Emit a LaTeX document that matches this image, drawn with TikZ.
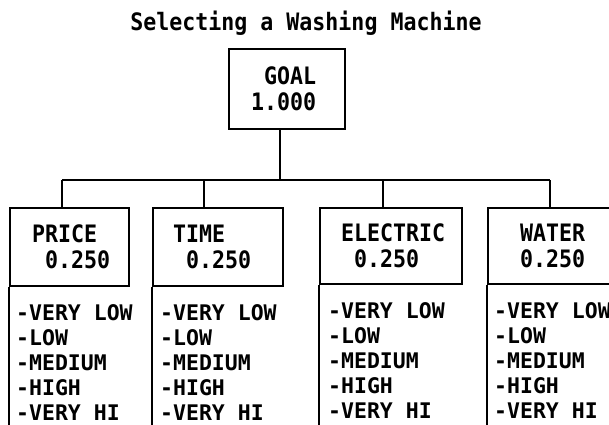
\documentclass[tikz,border=0pt]{standalone}
\usepackage{fontspec}
\usepackage{tikz}
\usetikzlibrary{positioning}
\newfontfamily\printfont[FakeStretch=0.9]{DejaVu Sans Mono}
\newfontfamily\listfont{DejaVu Sans Mono}

\tikzset{
  critbox/.style={draw, line width=2pt, anchor=north west, align=left,
        inner ysep=0pt, minimum height=78pt,
        font=\printfont\bfseries\fontsize{24}{25.5}\selectfont},
  levels/.style={inner sep=0pt, align=left,
        font=\listfont\bfseries\fontsize{21.5}{25.2}\selectfont},
  branch/.style={line width=2pt}
}

\begin{document}
\begin{tikzpicture}[x=1pt, y=-1pt]
  \clip (0,0) rectangle (609,424);

  \node[anchor=base, font=\printfont\bfseries\fontsize{24}{26}\selectfont]
    (title) at (306,30) {Selecting a Washing Machine};

  % goal and criteria
  \node[critbox, inner xsep=22pt, text width=72pt, minimum height=80pt]
    (goal) at (228,48) {\hphantom{0}GOAL\\1.000};
  \node[critbox, inner xsep=22pt, text width=75pt] (price) at (9,207)
    {PRICE\\\hphantom{0}0.250};
  \node[critbox, inner xsep=20pt, text width=90pt] (time) at (152,207)
    {TIME\\\hphantom{0}0.250};
  \node[critbox, inner xsep=21pt, text width=100pt, minimum height=76pt]
    (electric) at (319,207) {ELECTRIC\\\hphantom{0}0.250};
  \node[critbox, inner xsep=32pt, text width=74pt, minimum height=76pt]
    (water) at (487,207) {WATER\\0.250};

  % tree lines
  \coordinate (hub) at (280,180);
  \coordinate (dprice) at (62,180);
  \coordinate (dtime) at (204,180);
  \coordinate (delectric) at (383,180);
  \coordinate (dwater) at (550,180);
  \coordinate (floor) at (0,430);
  \draw[branch] (goal.south -| hub) -- (hub);
  \draw[branch] (dprice) -- (dwater);
  \foreach \c in {price,time,electric,water}
    \draw[branch] (d\c) -- (d\c |- \c.north);

  % rating levels
  \foreach \c/\dx in {price/7pt, time/8pt, electric/9pt, water/7pt}{
    \node[levels, below right=17pt and \dx of \c.south west] (\c list)
      {-VERY LOW\\-LOW\\-MEDIUM\\-HIGH\\-VERY HI};
    \draw[branch] (\c.south west) -- (\c.south west |- floor);
  }
\end{tikzpicture}
\end{document}
